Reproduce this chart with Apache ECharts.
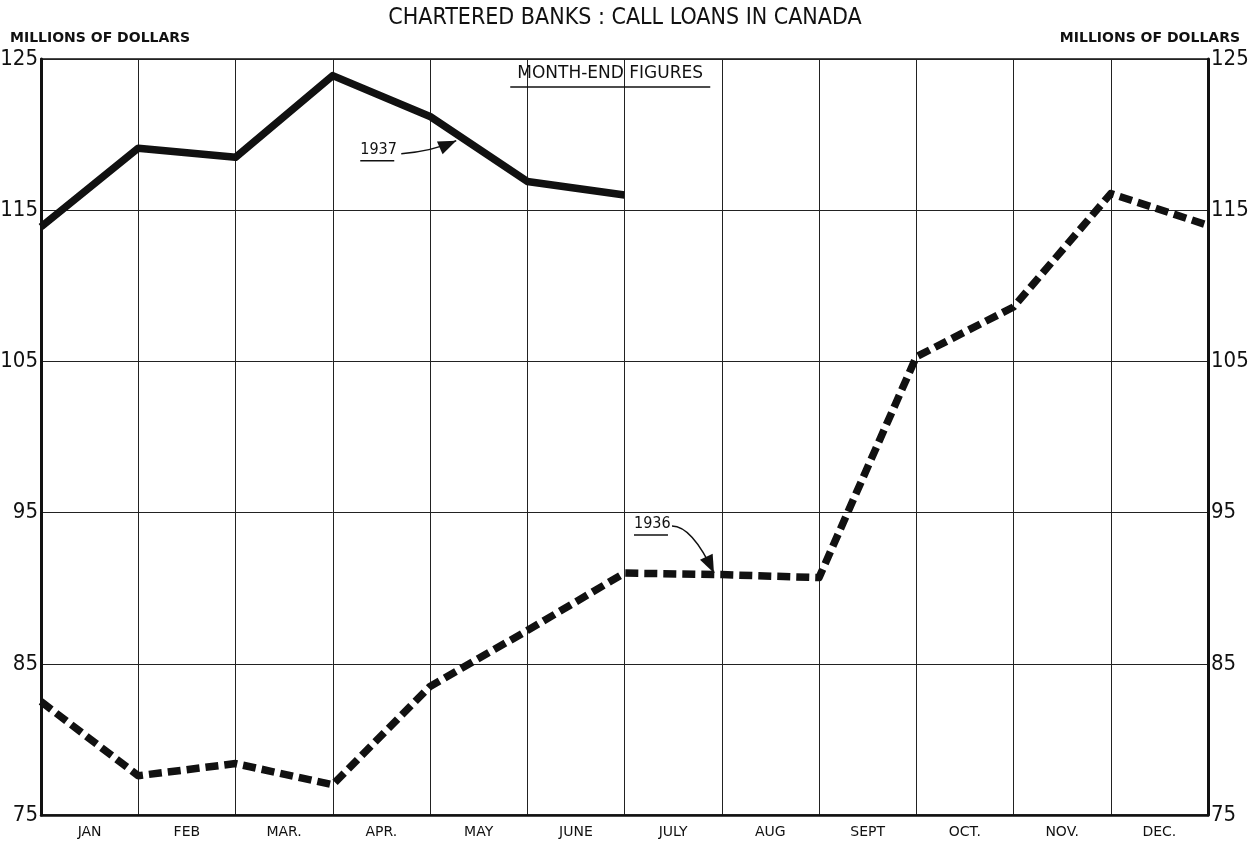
<!DOCTYPE html>
<html>
<head>
<meta charset="utf-8">
<script src="https://cdn.jsdelivr.net/npm/echarts@6/dist/echarts.min.js"></script>
<style>
html,body{margin:0;padding:0;background:#fff;}
#chart{width:1250px;height:844px;}
</style>
</head>
<body>
<div id="chart"></div>
<script>
const months = ['JAN','FEB','MAR.','APR.','MAY','JUNE','JULY','AUG','SEPT','OCT.','NOV.','DEC.'];
// month-end points: index 0 = start of January (end of previous December), 1..12 = end of each month
const values1937 = [113.9, 119.1, 118.5, 123.9, 121.2, 116.9, 116.0];
const values1936 = [82.5, 77.6, 78.4, 77.0, 83.5, 87.2, 91.0, 90.9, 90.7, 105.3, 108.6, 116.1, 114.0];
const yMin = 75, yMax = 125, yStep = 10;
const titleText = 'CHARTERED BANKS : CALL LOANS IN CANADA';
const unitText = 'MILLIONS OF DOLLARS';
const noteText = 'MONTH-END FIGURES';

const chart = echarts.init(document.getElementById('chart'), null, {renderer:'canvas'});
const handFont = '"DejaVu Sans Condensed", "Liberation Sans", sans-serif';
const plainFont = '"DejaVu Sans", sans-serif';
const ink = '#111';

const yAxisCommon = {
  type:'value', min:yMin, max:yMax, interval:yStep,
  axisLine:{show:true, lineStyle:{color:ink, width:3}},
  axisTick:{show:false},
  axisLabel:{fontFamily:handFont, fontSize:22, color:ink, margin:3},
};

const option = {
  animation:false,
  backgroundColor:'#fff',
  grid:{left:41, right:42, top:59, bottom:29, show:true, borderColor:ink, borderWidth:1.5,
        containLabel:false, outerBoundsMode:'none'},
  xAxis:[
    {type:'category', data:months, boundaryGap:true, position:'bottom',
     axisLine:{show:true, lineStyle:{color:ink, width:2.5}},
     axisTick:{show:false}, splitLine:{show:false},
     axisLabel:{fontFamily:plainFont, fontSize:14, color:ink, margin:10}},
    {type:'value', min:0, max:months.length, interval:1, position:'bottom',
     axisLine:{show:false}, axisTick:{show:false}, axisLabel:{show:false},
     splitLine:{show:true, lineStyle:{color:'#222', width:1}}}
  ],
  yAxis:[
    Object.assign({position:'left', splitLine:{show:true, lineStyle:{color:'#222', width:1}}}, yAxisCommon),
    Object.assign({position:'right', splitLine:{show:false}}, yAxisCommon)
  ],
  series:[
    {name:'1937', type:'line', xAxisIndex:1, yAxisIndex:0, symbol:'none',
     data:values1937.map((v,i)=>[i,v]),
     lineStyle:{color:ink, width:7.5, join:'round', cap:'butt'}},
    {name:'1936', type:'line', xAxisIndex:1, yAxisIndex:0, symbol:'none',
     data:values1936.map((v,i)=>[i,v]),
     lineStyle:{color:ink, width:7.5, type:[13,6], join:'round', cap:'butt'}}
  ]
};
chart.setOption(option);

function px(x,y){ return chart.convertToPixel({xAxisIndex:1, yAxisIndex:0}, [x,y]); }

function arrowGraphic(label, textPt, tailStart, ctrl, tip){
  const els = [];
  els.push({type:'text', left:textPt[0], top:textPt[1], style:{text:label, font:'16px ' + handFont, fill:ink}});
  const w = 34;
  els.push({type:'line', shape:{x1:textPt[0], y1:textPt[1]+19, x2:textPt[0]+w, y2:textPt[1]+19}, style:{stroke:ink, lineWidth:1.5}});
  els.push({type:'bezierCurve', shape:{x1:tailStart[0], y1:tailStart[1], x2:tip[0], y2:tip[1], cpx1:ctrl[0], cpy1:ctrl[1]}, style:{stroke:ink, lineWidth:1.5, fill:null}});
  const dx = tip[0]-ctrl[0], dy = tip[1]-ctrl[1];
  const len = Math.sqrt(dx*dx+dy*dy);
  const ux = dx/len, uy = dy/len;
  const hl = 18, hw = 7;
  const bx = tip[0]-ux*hl, by = tip[1]-uy*hl;
  els.push({type:'polygon', shape:{points:[[tip[0],tip[1]],[bx-uy*hw, by+ux*hw],[bx+uy*hw, by-ux*hw]]}, style:{fill:ink}});
  return els;
}

const tip37 = px(4.27, 119.6);
const tip36 = px(6.92, 91.0);
const note = px(5.0, 124.0);

const graphics = [
  {type:'text', left:'center', top:7, style:{text:titleText, font:'23px ' + handFont, fill:ink}},
  {type:'text', left:10, top:31, style:{text:unitText, font:'bold 14px ' + plainFont, fill:ink}},
  {type:'text', right:10, top:31, style:{text:unitText, font:'bold 14px ' + plainFont, fill:ink}},
  {type:'text', left:note[0]-10, top:note[1]-9, style:{text:noteText, font:'17px ' + plainFont, fill:ink}},
  {type:'line', shape:{x1:note[0]-17, y1:note[1]+13, x2:note[0]+183, y2:note[1]+13}, style:{stroke:ink, lineWidth:1.5}}
];
arrowGraphic('1937', [tip37[0]-96, tip37[1]+1], [tip37[0]-55, tip37[1]+13], [tip37[0]-25, tip37[1]+11], tip37).forEach(g=>graphics.push(g));
arrowGraphic('1936', [tip36[0]-80, tip36[1]-57], [tip36[0]-42, tip36[1]-47], [tip36[0]-22, tip36[1]-47], tip36).forEach(g=>graphics.push(g));
chart.setOption({graphic:graphics});
</script>
</body>
</html>
